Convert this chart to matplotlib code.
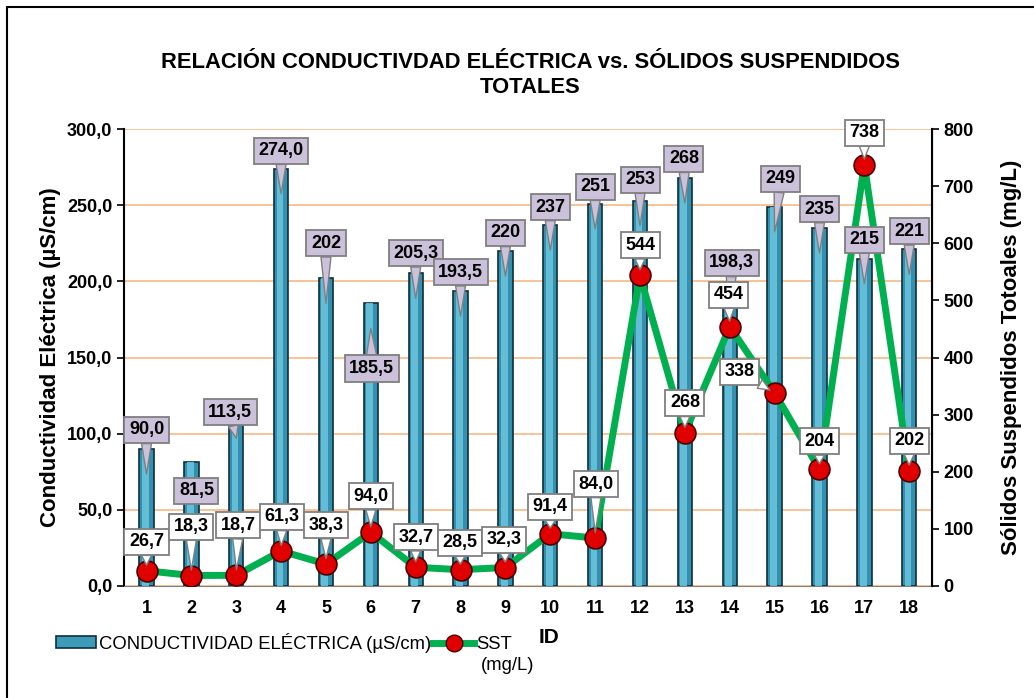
import numpy as np
import matplotlib.pyplot as plt
from matplotlib.lines import Line2D
from matplotlib.patches import Patch, Rectangle
from matplotlib.transforms import offset_copy

plt.rcParams['font.family'] = ['Liberation Sans', 'DejaVu Sans']

# data
ids = list(range(1, 19))
ce = [90.0, 81.5, 113.5, 274.0, 202, 185.5, 205.3, 193.5, 220, 237, 251, 253, 268, 198.3, 249, 235, 215, 221]
ce_labels = ['90,0', '81,5', '113,5', '274,0', '202', '185,5', '205,3', '193,5', '220', '237',
             '251', '253', '268', '198,3', '249', '235', '215', '221']
sst = [26.7, 18.3, 18.7, 61.3, 38.3, 94.0, 32.7, 28.5, 32.3, 91.4, 84.0, 544, 268, 454, 338, 204, 738, 202]
sst_labels = ['26,7', '18,3', '18,7', '61,3', '38,3', '94,0', '32,7', '28,5', '32,3', '91,4',
              '84,0', '544', '268', '454', '338', '204', '738', '202']

# callout placement, pixels from the bar top / point (label centre)
ce_off = [(0, 19), (5, -29), (-6, 1), (0, 18), (0, 35), (1, -65), (0, 20), (0, 19), (0, 18),
          (0, 18), (0, 17), (0, 21), (-1, 19), (2, 21), (6, 28), (0, 19), (0, 19), (0, 18)]
sst_off = [(0, 29), (0, 49), (2, 50), (1, 34), (0, 39), (0, 36), (0, 30), (-1, 27), (-1, 28),
           (0, 27), (1, 54), (0, 30), (0, 30), (-1, 32), (-35, 21), (0, 28), (0, 32), (0, 30)]
tip_depth = 25  # callout tails end inside the bar

fig = plt.figure(figsize=(10.34, 6.98), dpi=100)
fig.patches.append(Rectangle((0.0068, -0.1), 1.2, 1.0893, transform=fig.transFigure,
                             fill=False, ec='black', lw=1.5))

ax = fig.add_axes([0.12, 0.1605, 0.781, 0.6545])
ax2 = ax.twinx()

x = np.array(ids)
ax.bar(x, ce, width=0.32, color='#3390AE', edgecolor='#0f2f3c', linewidth=1.2, zorder=3)
ax.bar(x - 0.025, ce, width=0.15, color='#6CC6DF', linewidth=0, alpha=0.85, zorder=4)

ax.set_xlim(0.5, 18.5)
ax.set_ylim(0, 300)
ax.set_yticks(np.arange(0, 301, 50))
ax.set_yticklabels([f'{v:.1f}'.replace('.', ',') for v in np.arange(0, 301, 50)])
ax.set_xticks(x)
ax.set_xticklabels([str(i) for i in ids])
ax.yaxis.grid(True, color='#F9BE8C', lw=1.3, zorder=0)
ax.set_axisbelow(True)
ax.tick_params(axis='x', length=0, labelsize=13, pad=10)
ax.tick_params(axis='y', labelsize=13, direction='out', length=5, width=1.2)
for lab in ax.get_xticklabels() + ax.get_yticklabels():
    lab.set_fontweight('bold')
ax.spines['top'].set_visible(False)
ax.spines['bottom'].set_color('#808080')
ax.spines['left'].set_linewidth(1.5)
ax.set_ylabel('Conductividad Eléctrica (µS/cm)', fontsize=16, fontweight='bold', labelpad=4)

ax2.plot(x, sst, color='#00B050', lw=5, zorder=5, solid_joinstyle='round')
ax2.plot(x, sst, 'o', ms=15, mfc='#E00000', mec='#4a0000', mew=1.2, zorder=6)
ax2.set_ylim(0, 800)
ax2.set_yticks(np.arange(0, 801, 100))
ax2.tick_params(axis='y', labelsize=13, direction='out', length=5, width=1.2)
for lab in ax2.get_yticklabels():
    lab.set_fontweight('bold')
ax2.spines['top'].set_visible(False)
ax2.spines['right'].set_linewidth(1.5)
ax2.spines['left'].set_visible(False)
ax2.spines['bottom'].set_visible(False)
ax2.set_ylabel('Sólidos Suspendidos Totoales (mg/L)', fontsize=16, fontweight='bold', labelpad=20)

# callouts for bars (over the line, under the SST callouts)
tip_tr = offset_copy(ax.transData, fig=fig, y=-tip_depth, units='dots')
for xi, v, lab, (dx, dy) in zip(x, ce, ce_labels, ce_off):
    ax2.annotate(lab, xy=(xi, v), xycoords=tip_tr, xytext=(dx, dy + tip_depth),
                 textcoords='offset pixels', ha='center', va='center', fontsize=13,
                 fontweight='bold', zorder=7,
                 bbox=dict(boxstyle='square,pad=0.25', fc='#CCC1DA', ec='#7f7f7f', lw=1.3),
                 arrowprops=dict(arrowstyle='wedge,tail_width=0.55', fc='#CCC1DA', ec='#7f7f7f',
                                 lw=1.0, shrinkA=0, shrinkB=0))

for xi, v, lab, off in zip(x, sst, sst_labels, sst_off):
    ax2.annotate(lab, xy=(xi, v), xytext=off, textcoords='offset pixels',
                 ha='center', va='center', fontsize=13, fontweight='bold', zorder=8,
                 bbox=dict(boxstyle='square,pad=0.25', fc='white', ec='#7f7f7f', lw=1.3),
                 arrowprops=dict(arrowstyle='wedge,tail_width=0.55', fc='white', ec='#7f7f7f',
                                 lw=1.0, shrinkA=0, shrinkB=4))

fig.text(0.513, 0.8926, 'RELACIÓN CONDUCTIVDAD ELÉCTRICA vs. SÓLIDOS SUSPENDIDOS\nTOTALES',
         ha='center', va='center', fontsize=15.8, fontweight='bold', linespacing=1.2)
fig.text(0.531, 0.086, 'ID', ha='center', va='center', fontsize=15, fontweight='bold')

handles = [Patch(fc='#3B9BB8', ec='#0f2f3c', lw=1.2),
           Line2D([], [], color='#00B050', lw=5, marker='o', ms=12, mfc='#E00000', mec='#4a0000')]
fig.legend(handles, ['CONDUCTIVIDAD ELÉCTRICA (µS/cm)', 'SST'], ncol=2,
           loc='center left', bbox_to_anchor=(0.045, 0.079), frameon=False, fontsize=13.3,
           handlelength=2.2, handleheight=0.6, handletextpad=0.15, columnspacing=0.1,
           borderpad=0)
fig.text(0.465, 0.047, '(mg/L)', ha='left', va='center', fontsize=13.3)

fig.savefig('out.png', dpi=100)
